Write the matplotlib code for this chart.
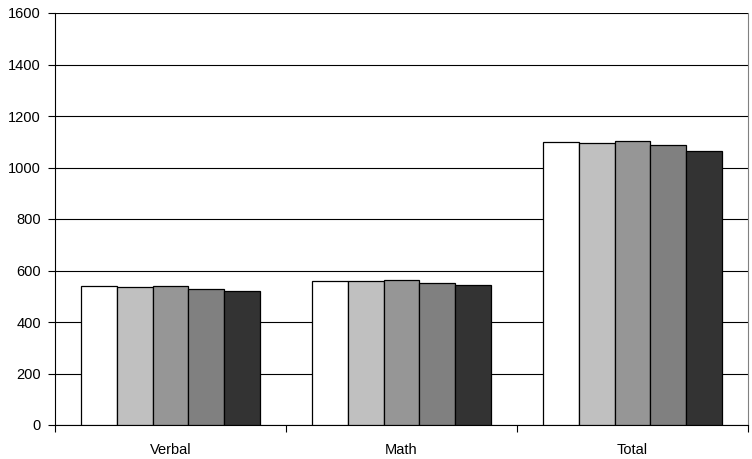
import matplotlib
matplotlib.use("Agg")
import matplotlib.pyplot as plt
import numpy as np

categories = ["Verbal", "Math", "Total"]
# five series per group
series_values = [
    [539, 561, 1098],
    [537, 559, 1096],
    [541, 564, 1103],
    [529, 553, 1086],
    [521, 545, 1066],
]
bar_colors = ["#FFFFFF", "#C0C0C0", "#969696", "#808080", "#333333"]
y_ticks = [0, 200, 400, 600, 800, 1000, 1200, 1400, 1600]

fig = plt.figure(figsize=(7.52, 4.59), dpi=100)
ax = fig.add_axes([55 / 752, 34 / 459, 693 / 752, 412 / 459])

x = np.arange(len(categories))
width = 0.155
n = len(series_values)
for i, vals in enumerate(series_values):
    offset = (i - (n - 1) / 2) * width
    ax.bar(x + offset, vals, width, color=bar_colors[i], edgecolor="black",
           linewidth=0.9, zorder=3)

ax.set_xlim(-0.5, len(categories) - 0.5)
ax.set_ylim(0, 1600)
ax.set_yticks(y_ticks)
ax.yaxis.grid(True, color="black", linewidth=0.8, zorder=0)
ax.set_axisbelow(True)

ax.set_xticks(x)
ax.set_xticklabels(categories)
ax.set_xticks(np.arange(-0.5, len(categories)), minor=True)
ax.tick_params(axis="x", which="major", length=0, pad=13)
ax.tick_params(axis="x", which="minor", length=5, width=0.8, direction="out")
ax.tick_params(axis="y", length=5, width=0.8, direction="out", pad=5)

for lab in ax.get_xticklabels() + ax.get_yticklabels():
    lab.set_fontfamily("Liberation Sans")
    lab.set_fontsize(10.5)

ax.spines["top"].set_visible(False)
ax.spines["right"].set_color("#808080")
ax.spines["right"].set_linewidth(0.8)
ax.spines["left"].set_linewidth(0.8)
ax.spines["bottom"].set_linewidth(0.8)

fig.savefig("out.png", dpi=100)
